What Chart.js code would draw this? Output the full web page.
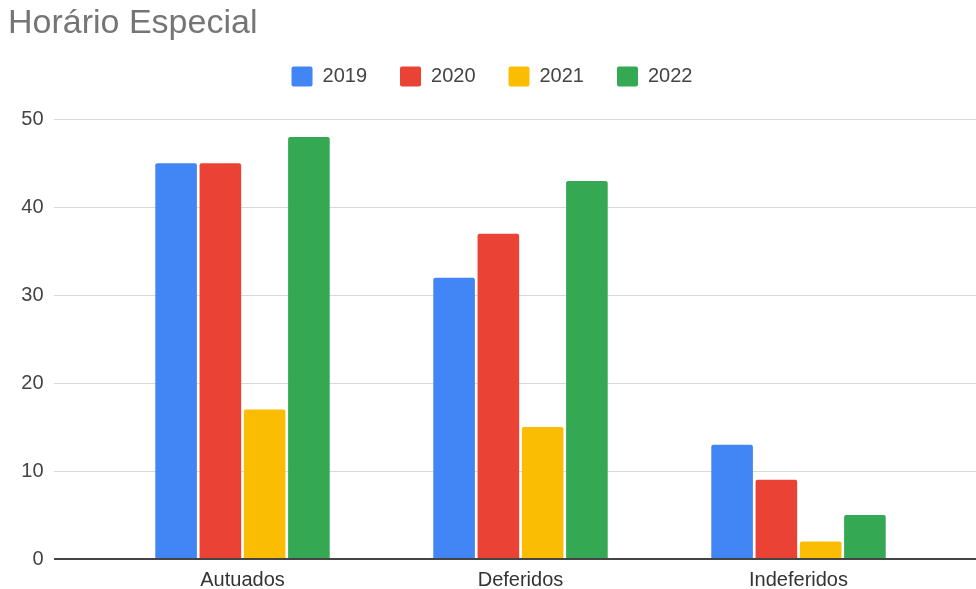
<!DOCTYPE html>
<html lang="pt">
<head>
<meta charset="utf-8" />
<title>Horário Especial</title>
<script src="https://cdn.jsdelivr.net/npm/chart.js@4/dist/chart.umd.min.js"></script>
<style>
  html, body { margin: 0; padding: 0; background: #fff; overflow: hidden; }
  canvas { display: block; }
</style>
</head>
<body>
<canvas id="chart" width="976" height="589"></canvas>
<script>
const categorias = ["Autuados", "Deferidos", "Indeferidos"];
const anos = ["2019", "2020", "2021", "2022"];
const v2019 = [45, 32, 13];
const v2020 = [45, 37, 9];
const v2021 = [17, 15, 2];
const v2022 = [48, 43, 5];
const cores = ["#4285F4", "#EA4335", "#FBBC04", "#34A853"];
const yTicks = [0, 10, 20, 30, 40, 50];

const FONT = "'Liberation Sans', Arial, sans-serif";

// linhas de grade que vão além da área do gráfico (como no Google Sheets)
const gridPlugin = {
  id: "gridExt",
  beforeInit(chart) {
    // espaço extra entre a legenda e a área do gráfico
    const fit = chart.legend.fit;
    chart.legend.fit = function () {
      fit.call(this);
      this.height += 23;
    };
  },
  beforeDatasetsDraw(chart) {
    const { ctx } = chart;
    const y = chart.scales.y;
    ctx.save();
    ctx.strokeStyle = "#d9d9d9";
    ctx.lineWidth = 1;
    yTicks.forEach(t => {
      if (t === 0) return;
      const py = Math.round(y.getPixelForValue(t)) + 0.5;
      ctx.beginPath();
      ctx.moveTo(54, py);
      ctx.lineTo(chart.width, py);
      ctx.stroke();
    });
    ctx.restore();
  },
  afterDatasetsDraw(chart) {
    const { ctx } = chart;
    const py = chart.scales.y.getPixelForValue(0);
    ctx.save();
    ctx.strokeStyle = "#444";
    ctx.lineWidth = 2;
    ctx.beginPath();
    ctx.moveTo(54, py);
    ctx.lineTo(chart.width, py);
    ctx.stroke();
    ctx.restore();
  }
};

const series = [v2019, v2020, v2021, v2022];

new Chart(document.getElementById("chart"), {
  type: "bar",
  data: {
    labels: categorias,
    datasets: anos.map((a, i) => ({
      label: a,
      data: series[i],
      backgroundColor: cores[i],
      borderRadius: 2,
      borderSkipped: "bottom",
      categoryPercentage: 0.637,
      barPercentage: 0.94
    }))
  },
  options: {
    responsive: false,
    animation: false,
    devicePixelRatio: 1,
    layout: { padding: { left: 8, right: 0, top: 0, bottom: 0 } },
    plugins: {
      title: {
        display: true,
        text: "Horário Especial",
        align: "start",
        color: "#757575",
        font: { family: FONT, size: 34, weight: "normal", lineHeight: 0.6 },
        padding: { top: 13, bottom: 0 }
      },
      legend: {
        display: true,
        position: "top",
        align: "center",
        labels: {
          color: "#444",
          font: { family: FONT, size: 20 },
          boxWidth: 21,
          boxHeight: 20,
          padding: 33,
          useBorderRadius: true,
          borderRadius: 2
        }
      },
      tooltip: { enabled: false }
    },
    scales: {
      x: {
        grid: { display: false, drawTicks: false },
        border: { display: false },
        ticks: { color: "#333", font: { family: FONT, size: 20 }, padding: 9, maxRotation: 0, minRotation: 0 },
        afterFit: s => { s.height = 30; }
      },
      y: {
        min: 0,
        max: 50,
        afterBuildTicks: s => { s.ticks = yTicks.map(v => ({ value: v })); },
        grid: { display: false, drawTicks: false },
        border: { display: false },
        ticks: { color: "#444", font: { family: FONT, size: 20 }, padding: 60 },
        afterFit: s => { s.width = 95.5; s.paddingTop = 12; s.paddingBottom = 12; }
      },
      y2: {
        position: "right",
        grid: { display: false, drawTicks: false },
        border: { display: false },
        ticks: { display: false },
        afterFit: s => { s.width = 38.5; }
      }
    }
  },
  plugins: [gridPlugin]
});
</script>
</body>
</html>
